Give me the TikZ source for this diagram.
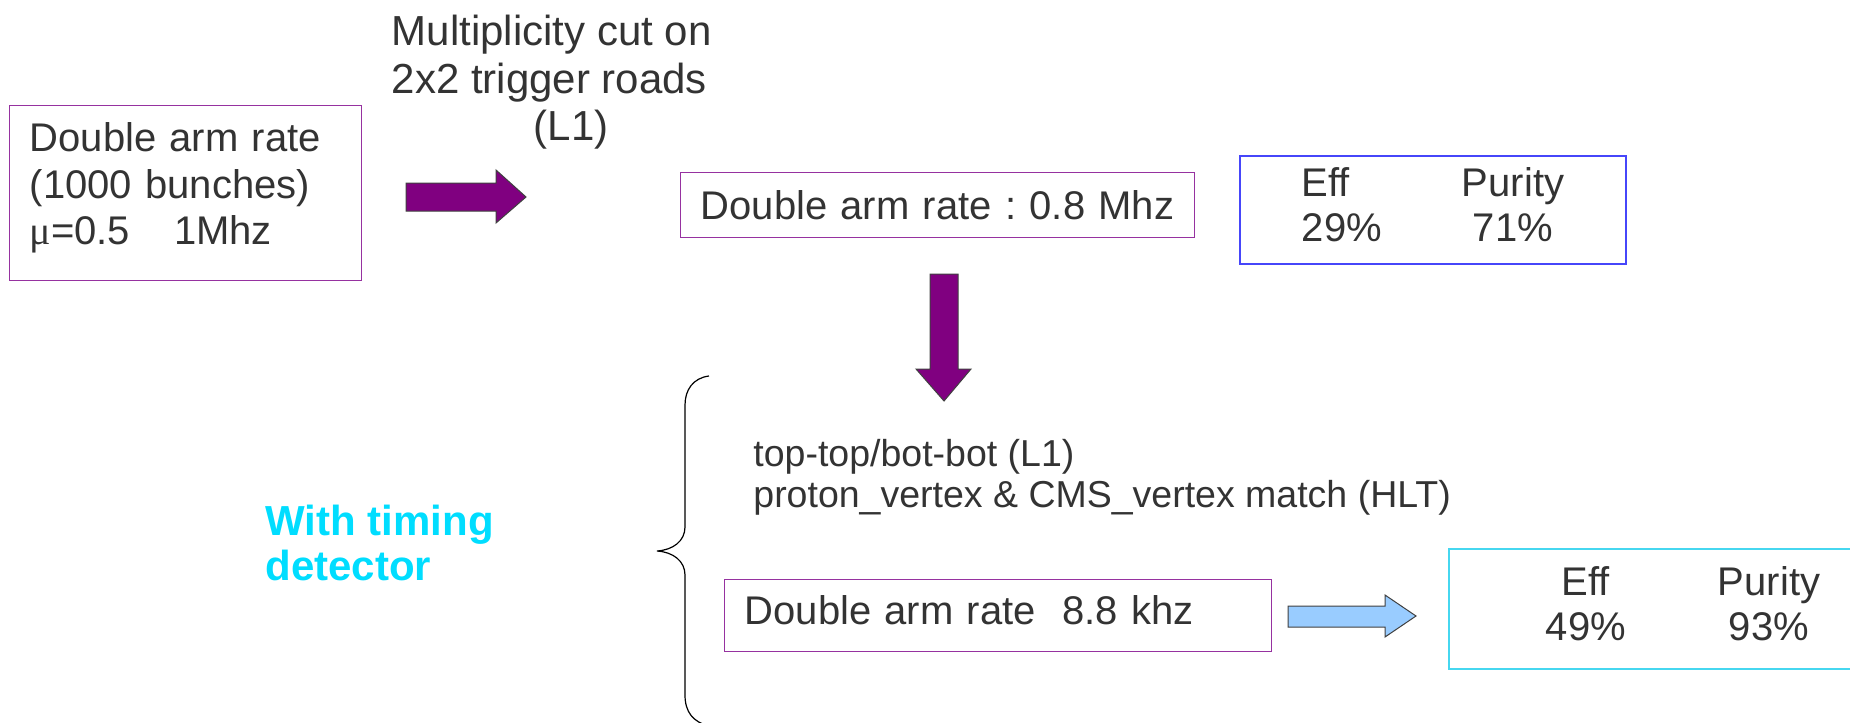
\documentclass[tikz,border=0pt]{standalone}
\usepackage{fontspec}
\setmainfont{Liberation Sans}
\newfontfamily\serifmu{Liberation Serif}
\frenchspacing

\definecolor{textgray}{RGB}{51,51,51}
\definecolor{boxpurple}{RGB}{150,50,160}
\definecolor{boxblue}{RGB}{70,70,250}
\definecolor{boxcyan}{RGB}{70,215,240}
\definecolor{timingcyan}{RGB}{0,221,255}
\definecolor{arrowpurple}{RGB}{128,0,128}
\definecolor{arrowblue}{RGB}{153,204,255}

\tikzset{
  ratebox/.style={draw=boxpurple, line width=0.7pt, text=textgray, align=left,
    inner xsep=10pt, anchor=north west, font=\fontsize{20}{23.25}\selectfont},
  effbox/.style={draw=#1, line width=0.7pt, text=textgray, inner sep=0pt,
    font=\fontsize{20}{22.5}\selectfont},
  fatarrow/.style={fill=#1, draw=black!75, line width=0.5pt},
}

\begin{document}
\begin{tikzpicture}[x=0.5pt, y=-0.5pt]
    \useasboundingbox (0,0) rectangle (1850,722);

    \node[ratebox, text width=156pt, minimum height=87.5pt] (rate0) at (9,105)
        {Double arm rate\\(1000 bunches)\\{\serifmu μ}=0.5\hspace{22pt}1Mhz\rule[-9.6pt]{0pt}{9.6pt}};
    \node[font=\fontsize{21}{23.75}\selectfont, text=textgray, align=left, anchor=north west, inner sep=0pt]
        (cutlabel) at (391.5,15) {Multiplicity cut on\\2x2 trigger roads\\\hspace*{71pt}(L1)};

    \node[ratebox, text width=237pt, minimum height=32.5pt, text height=14.6pt, text depth=0pt]
        (rate1) at (680,172) {\mbox{Double arm rate : 0.8 Mhz}};
    \node[effbox=boxblue, minimum width=193pt, minimum height=54pt] (eff1) at (1433,210)
        {\begin{tabular}{@{}l@{\hspace{40pt}}c@{}}Eff & Purity\\29\% & 71\%\end{tabular}};

    \draw[fatarrow=arrowpurple] (406,183) -- (496,183) -- (496,170) -- (526,197) -- (496,223) -- (496,211) -- (406,211) -- cycle;
    \draw[fatarrow=arrowpurple] (930,274) -- (958,274) -- (958,369) -- (971,369) -- (944,401) -- (916,369) -- (930,369) -- cycle;

    % brace
    \draw[line width=0.6pt] (709,376) .. controls (693,378) and (685,390) .. (685,405) -- (685,527)
        .. controls (685,541) and (673,550) .. (657,551) .. controls (673,552) and (685,561) .. (685,575)
        -- (685,695) .. controls (685,712) and (693,722) .. (709,726);

    \node[font=\bfseries\fontsize{21}{22.5}\selectfont, text=timingcyan, align=left, anchor=north west, inner sep=0pt]
        (timing) at (265,505) {With timing\\detector};
    \node[font=\fontsize{18.75}{20.5}\selectfont, text=textgray, align=left, anchor=north west, inner sep=0pt]
        (cuts) at (753,439) {top-top/bot-bot (L1)\\proton\_vertex \& CMS\_vertex match (HLT)};

    \node[ratebox, text width=253.5pt, minimum height=36pt, text height=14.6pt, text depth=5.6pt]
        (rate2) at (724,579) {\mbox{Double arm rate\ \ 8.8 khz}};
    \draw[fatarrow=arrowblue] (1288,606) -- (1385,606) -- (1385,595) -- (1416,616) -- (1385,637) -- (1385,627) -- (1288,627) -- cycle;
    \node[effbox=boxcyan, minimum width=234pt, minimum height=60pt] (eff2) at (1683,609)
        {\begin{tabular}{@{}c@{\hspace{46pt}}c@{}}Eff & Purity\\49\% & 93\%\end{tabular}};
\end{tikzpicture}
\end{document}
